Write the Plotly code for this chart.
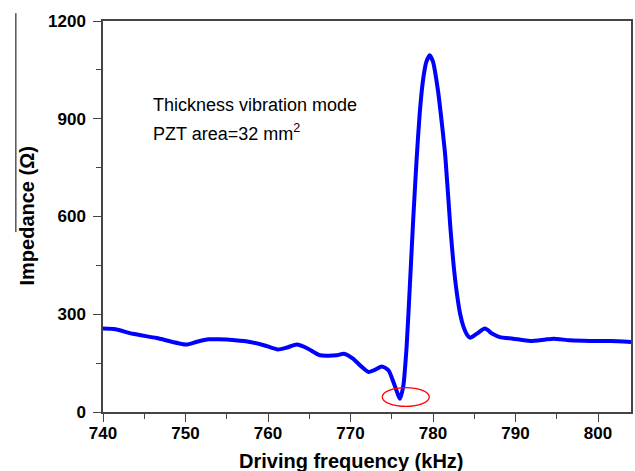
import plotly.graph_objects as go

freq = [740.0, 741.5, 743.6, 746.5, 750.1, 751.3, 752.8, 754.0, 756.0, 757.8,
        759.5, 761.2, 762.3, 763.5, 764.8, 766.3, 768.3, 769.2, 770.3, 771.3,
        772.2, 773.0, 773.8, 774.6, 775.3, 776.0, 776.4, 776.8, 777.2, 777.6,
        778.0, 778.4, 778.8, 779.2, 779.6, 780.0, 780.6, 781.1, 781.5, 782.1,
        782.5, 782.9, 783.3, 783.7, 784.1, 784.5, 785.3, 786.3, 787.2, 788.1,
        789.7, 791.8, 793.5, 794.6, 796.6, 799.0, 801.5, 804.0]
impedance = [256, 254, 240, 227, 207, 215, 223, 223, 220, 215,
             205, 192, 198, 207, 195, 174, 174, 179, 164, 140,
             123, 130, 140, 128, 85, 41, 80, 200, 390, 590,
             770, 920, 1020, 1075, 1095, 1075, 987, 880, 782, 568,
             450, 363, 300, 261, 238, 228, 240, 256, 240, 230,
             225, 218, 222, 225, 220, 218, 218, 215]

x_ticks = [740, 750, 760, 770, 780, 790, 800]
y_ticks = [0, 300, 600, 900, 1200]

FONT = "Liberation Sans, Arial, sans-serif"

fig = go.Figure()
fig.add_trace(go.Scatter(x=freq, y=impedance, mode="lines",
                         line=dict(color="#0000FF", width=4, shape="spline", smoothing=0.6),
                         showlegend=False, hoverinfo="skip"))

fig.add_shape(type="circle", xref="x", yref="y", x0=773.85, x1=779.55, y0=17, y1=75,
              line=dict(color="#FF0000", width=1.3))
fig.add_shape(type="line", xref="paper", yref="paper", x0=-0.165, x1=-0.165, y0=0.46, y1=1.02,
              line=dict(color="#000000", width=1))

tick_font = dict(family=FONT, size=17, color="#000000", weight="bold")

fig.update_xaxes(range=[740, 804], tickvals=x_ticks, ticks="outside", ticklen=8, tickwidth=1.3,
                 tickcolor="#444", showline=True, linecolor="#444", linewidth=1.5, mirror=True,
                 showgrid=False, zeroline=False, tickfont=tick_font, automargin=False,
                 ticklabelstandoff=-3,
                 minor=dict(dtick=5, ticks="outside", ticklen=5, tickwidth=1.3, tickcolor="#444"))
fig.update_yaxes(range=[0, 1200], tickvals=y_ticks, ticks="outside", ticklen=8, tickwidth=1.3,
                 tickcolor="#444", showline=True, linecolor="#444", linewidth=1.5, mirror=True,
                 showgrid=False, zeroline=False, tickfont=tick_font, automargin=False,
                 ticklabelstandoff=4,
                 minor=dict(dtick=150, ticks="outside", ticklen=5, tickwidth=1.3, tickcolor="#444"))

fig.add_annotation(text="Driving frequency (kHz)", xref="paper", yref="paper",
                   x=0.47, y=-(461 - 411.7) / 391, xanchor="center", yanchor="middle", showarrow=False,
                   font=dict(family=FONT, size=20, color="#000", weight="bold"))
fig.add_annotation(text="Impedance (Ω)", xref="paper", yref="paper",
                   x=-(103 - 26) / 528, y=0.5, xanchor="center", yanchor="middle", textangle=-90,
                   showarrow=False,
                   font=dict(family=FONT, size=20, color="#000", weight="bold"))
fig.add_annotation(text="Thickness vibration mode", xref="paper", yref="paper",
                   x=(151 - 103) / 528, y=(411.7 - 105) / 391, xanchor="left", yanchor="middle",
                   showarrow=False, font=dict(family=FONT, size=18, color="#000"))
fig.add_annotation(text="PZT area=32 mm<sup>2</sup>", xref="paper", yref="paper",
                   x=(151 - 103) / 528, y=(411.7 - 132) / 391, xanchor="left", yanchor="middle",
                   showarrow=False, font=dict(family=FONT, size=18, color="#000"))

fig.update_layout(width=635, height=471, margin=dict(l=103, r=4, t=21, b=59, autoexpand=False),
                  paper_bgcolor="white", plot_bgcolor="white")

fig.write_html("out.html", config={"displayModeBar": False},
               post_script="document.body.style.margin='0';document.body.style.overflow='hidden';")
